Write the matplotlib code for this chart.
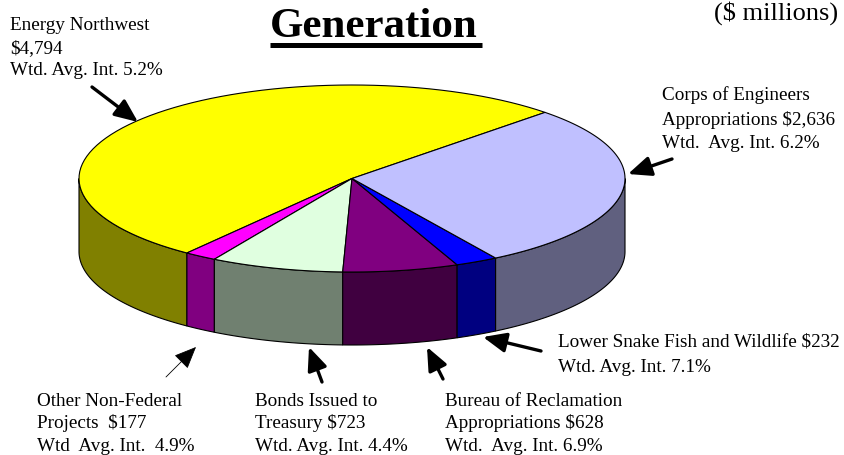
import numpy as np
import matplotlib
matplotlib.use('Agg')
import matplotlib.pyplot as plt
from matplotlib.patches import Polygon

plt.rcParams['font.family'] = ['Liberation Serif', 'DejaVu Serif']

# going counterclockwise from the yellow slice
names = ['Energy Northwest', 'Other', 'Bonds', 'Reclamation', 'Snake', 'Corps']
values = [4794, 177, 723, 628, 232, 2636]
top_colors = ['#ffff00', '#ff00ff', '#e0ffe0', '#800080', '#0000ff', '#c0c0ff']
side_colors = ['#808000', '#800080', '#708070', '#400040', '#000080', '#60607f']

label_lines = [
    ['Energy Northwest', '$4,794', 'Wtd. Avg. Int. 5.2%'],
    ['Corps of Engineers', 'Appropriations $2,636', 'Wtd.  Avg. Int. 6.2%'],
    ['Lower Snake Fish and Wildlife $232', 'Wtd. Avg. Int. 7.1%'],
    ['Bureau of Reclamation', 'Appropriations $628', 'Wtd.  Avg. Int. 6.9%'],
    ['Bonds Issued to', 'Treasury $723', 'Wtd. Avg. Int. 4.4%'],
    ['Other Non-Federal', 'Projects  $177', 'Wtd  Avg. Int.  4.9%'],
]
label_x = [10, 662, 558, 445, 255, 37]
label_y = [[30, 53, 75], [100, 125, 148], [347, 372], [406, 428, 451],
           [406, 428, 451], [406, 428, 451]]

# tail, head in pixels
arrows = [
    ((92, 88), (138, 123), 2.4),
    ((672, 160), (628, 175), 2.4),
    ((541, 352), (483, 338), 2.4),
    ((443, 380), (427, 348), 2.4),
    ((322, 383), (309, 348), 2.4),
    ((166, 378), (196, 348), 0.6),
]

cx, cy, rx, ry, depth = 352, 179.5, 273, 93.5, 73
start = 45.0

fig = plt.figure(figsize=(8.44, 4.56), dpi=100)
ax = fig.add_axes([0, 0, 1, 1])
ax.set_xlim(0, 844)
ax.set_ylim(456, 0)
ax.axis('off')


def rim(a0, a1):
    t = np.radians(np.linspace(a0, a1, 80))
    return cx + rx * np.cos(t), cy - ry * np.sin(t)


edges = start + 360 * np.cumsum([0] + values) / sum(values)

# sides of the front half, then the lids
for i in range(len(values)):
    a0, a1 = max(edges[i], 180), min(edges[i + 1], 360)
    if a1 > a0:
        x, y = rim(a0, a1)
        pts = np.r_[np.c_[x, y], np.c_[x[::-1], y[::-1] + depth]]
        ax.add_patch(Polygon(pts, fc=side_colors[i], ec='black', lw=0.8))

for i in range(len(values)):
    x, y = rim(edges[i], edges[i + 1])
    pts = np.r_[[[cx, cy]], np.c_[x, y]]
    ax.add_patch(Polygon(pts, fc=top_colors[i], ec='black', lw=0.8))

for lines, x, ys in zip(label_lines, label_x, label_y):
    for line, y in zip(lines, ys):
        ax.text(x, y, line, fontsize=13.8, va='baseline', ha='left', parse_math=False)

for tail, head, lw in arrows:
    ax.annotate('', xy=head, xytext=tail,
                arrowprops=dict(arrowstyle='-|>,head_length=1.4,head_width=0.6', color='black',
                                lw=lw, shrinkA=0, shrinkB=0, mutation_scale=10))

ax.text(270, 37, 'Generation', fontsize=31, fontweight='bold', ha='left', va='baseline')
ax.plot([270, 482], [45.5, 45.5], color='black', lw=3.6, solid_capstyle='butt')
ax.text(714, 20, '($ millions)', fontsize=19, ha='left', va='baseline', parse_math=False)

fig.savefig('out.png', dpi=100)
